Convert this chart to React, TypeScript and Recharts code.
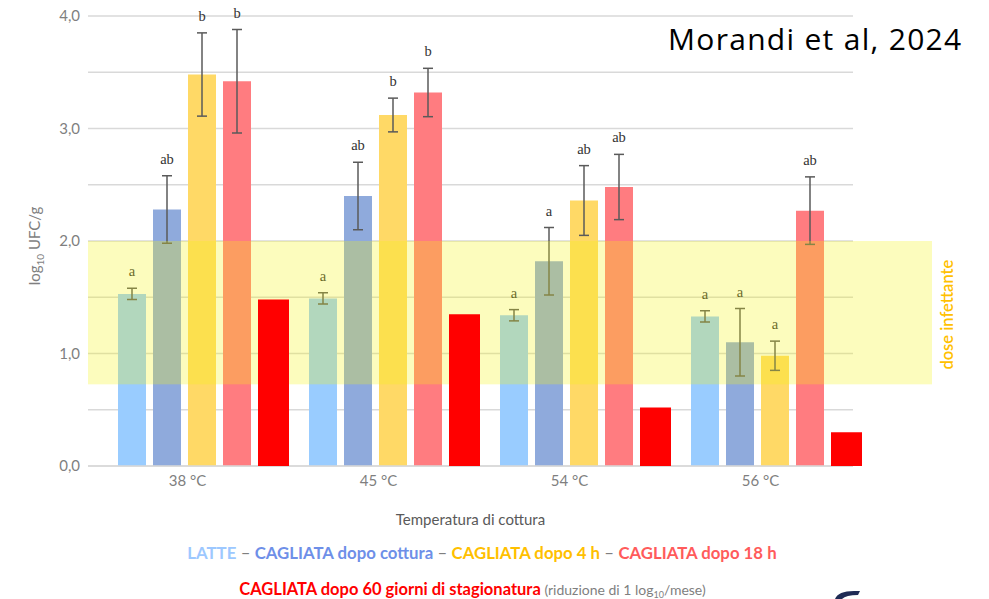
import React from "react";
import {
  BarChart,
  Bar,
  XAxis,
  YAxis,
  CartesianGrid,
  ErrorBar,
  LabelList,
  ReferenceArea,
} from "recharts";

// categorie (temperatura di cottura)
const categories = ["38 °C", "45 °C", "54 °C", "56 °C"];

// log10 UFC/g, medie
const latte = [1.53, 1.49, 1.34, 1.33];
const latteErr = [0.05, 0.05, 0.05, 0.05];
const latteSig = ["a", "a", "a", "a"];

const cottura = [2.28, 2.4, 1.82, 1.1];
const cotturaErr = [0.3, 0.3, 0.3, 0.3];
const cotturaSig = ["ab", "ab", "a", "a"];

const dopo4h = [3.48, 3.12, 2.36, 0.98];
const dopo4hErr = [0.37, 0.15, 0.31, 0.13];
const dopo4hSig = ["b", "b", "ab", "a"];

const dopo18h = [3.42, 3.32, 2.48, 2.27];
const dopo18hErr = [0.46, 0.215, 0.29, 0.3];
const dopo18hSig = ["b", "b", "ab", "ab"];

const stagionatura = [1.48, 1.35, 0.52, 0.3];

// fascia "dose infettante"
const doseRange = [0.726, 2.0];

const yTicks = [0, 0.5, 1, 1.5, 2, 2.5, 3, 3.5, 4];

const data = categories.map((cat, i) => ({
  cat,
  latte: latte[i],
  latteErr: latteErr[i],
  latteSig: latteSig[i],
  cottura: cottura[i],
  cotturaErr: cotturaErr[i],
  cotturaSig: cotturaSig[i],
  dopo4h: dopo4h[i],
  dopo4hErr: dopo4hErr[i],
  dopo4hSig: dopo4hSig[i],
  dopo18h: dopo18h[i],
  dopo18hErr: dopo18hErr[i],
  dopo18hSig: dopo18hSig[i],
  stagionatura: stagionatura[i],
}));

const GRAY = "#7F7F7F";

// lettera di significatività sopra la barra d'errore
function sigLabel(values: number[], errs: number[]) {
  return (props: any) => {
    const { x, y, width, height, value, index } = props;
    const pxPerUnit = height / values[index];
    const top = y - errs[index] * pxPerUnit;
    return (
      <text
        x={x + width / 2}
        y={top - 12}
        textAnchor="middle"
        fontFamily="'Liberation Serif', serif"
        fontSize={14.5}
        fill="#333"
      >
        {value}
      </text>
    );
  };
}

const XTick = (props: any) => {
  const { x, y, payload } = props;
  return (
    <text x={x - 16} y={y} dy={12} textAnchor="middle" fill={GRAY} fontSize={15} fontFamily="Lato">
      {payload.value}
    </text>
  );
};

// la fascia parte dall'inizio del grafico (padding asse x = 20) e sborda a destra
const DoseBand = (props: any) => {
  const { x, y, width, height } = props;
  return (
    <g>
      <rect x={x - 20} y={y} width={width + 80} height={height} fill="#F4F313" fillOpacity={0.28} />
      <text
        x={0}
        y={0}
        transform={`translate(${x + width + 81}, ${y + height / 2 + 2}) rotate(-90)`}
        textAnchor="middle"
        fill="#FFC000"
        fontSize={16.5}
        fontWeight={600}
        fontFamily="Lato"
      >
        dose infettante
      </text>
    </g>
  );
};

const YLabel = () => (
  <text
    transform="translate(40, 246) rotate(-90)"
    textAnchor="middle"
    fill={GRAY}
    fontSize={15}
    fontFamily="Lato"
  >
    log
    <tspan fontSize={10} dy={4}>10</tspan>
    <tspan dy={-4}> UFC/g</tspan>
  </text>
);

export default function App() {
  return (
    <div
      style={{
        position: "absolute",
        left: 0,
        top: 0,
        width: 989,
        height: 599,
        background: "#fff",
        fontFamily: "Lato, sans-serif",
        overflow: "hidden",
      }}
    >
      <BarChart
        width={989}
        height={599}
        data={data}
        margin={{ top: 16, right: 136, bottom: 103, left: 0 }}
        barGap={7}
      >
        <CartesianGrid vertical={false} stroke="#D9D9D9" strokeWidth={1.5} />
        <XAxis
          dataKey="cat"
          height={30}
          padding={{ left: 20, right: -19 }}
          axisLine={{ stroke: "#D9D9D9", strokeWidth: 1.5 }}
          tickLine={false}
          tick={<XTick />}
          label={{
            value: "Temperatura di cottura",
            position: "bottom",
            offset: 18,
            fill: "#595959",
            fontSize: 15,
            fontFamily: "Lato",
          }}
        />
        <YAxis
          width={88}
          domain={[0, 4]}
          ticks={yTicks}
          interval={0}
          axisLine={false}
          tickLine={false}
          tick={{ fill: GRAY, fontSize: 15, fontFamily: "Lato" }}
          tickFormatter={(v: number) => (Number.isInteger(v) ? v.toFixed(1).replace(".", ",") : "")}
          label={{ content: <YLabel /> }}
        />
        <Bar dataKey="latte" fill="#99CCFF" barSize={28} isAnimationActive={false}>
          <ErrorBar dataKey="latteErr" width={5} stroke="#5a5a5a" strokeWidth={1.5} />
          <LabelList dataKey="latteSig" content={sigLabel(latte, latteErr)} />
        </Bar>
        <Bar dataKey="cottura" fill="#8FAADC" barSize={28} isAnimationActive={false}>
          <ErrorBar dataKey="cotturaErr" width={5} stroke="#5a5a5a" strokeWidth={1.5} />
          <LabelList dataKey="cotturaSig" content={sigLabel(cottura, cotturaErr)} />
        </Bar>
        <Bar dataKey="dopo4h" fill="#FFD966" barSize={28} isAnimationActive={false}>
          <ErrorBar dataKey="dopo4hErr" width={5} stroke="#5a5a5a" strokeWidth={1.5} />
          <LabelList dataKey="dopo4hSig" content={sigLabel(dopo4h, dopo4hErr)} />
        </Bar>
        <Bar dataKey="dopo18h" fill="#FF7C80" barSize={28} isAnimationActive={false}>
          <ErrorBar dataKey="dopo18hErr" width={5} stroke="#5a5a5a" strokeWidth={1.5} />
          <LabelList dataKey="dopo18hSig" content={sigLabel(dopo18h, dopo18hErr)} />
        </Bar>
        <ReferenceArea
          y1={doseRange[0]}
          y2={doseRange[1]}
          shape={<DoseBand />}
          ifOverflow="visible"
          zIndex={2500}
        />
        <Bar dataKey="stagionatura" fill="#FF0000" barSize={31} isAnimationActive={false} zIndex={2600} />
      </BarChart>

      <div
        style={{
          position: "absolute",
          left: 668,
          top: 21,
          fontSize: 30,
          fontFamily: "'Open Sans', sans-serif",
          letterSpacing: 1.3,
          color: "#000",
          whiteSpace: "nowrap",
          lineHeight: "36px",
        }}
      >
        Morandi et al, 2024
      </div>

      <div
        style={{
          position: "absolute",
          left: 0,
          width: 964,
          top: 543,
          textAlign: "center",
          fontSize: 16.8,
          fontWeight: 700,
          whiteSpace: "nowrap",
          lineHeight: "20px",
        }}
      >
        <span style={{ color: "#9DC8FF" }}>LATTE</span>
        <span style={{ color: GRAY, fontWeight: 400 }}> – </span>
        <span style={{ color: "#6E8FE8" }}>CAGLIATA dopo cottura</span>
        <span style={{ color: GRAY, fontWeight: 400 }}> – </span>
        <span style={{ color: "#FFC000" }}>CAGLIATA dopo 4 h</span>
        <span style={{ color: GRAY, fontWeight: 400 }}> – </span>
        <span style={{ color: "#FF5B5B" }}>CAGLIATA dopo 18 h</span>
      </div>
      <div
        style={{
          position: "absolute",
          left: 0,
          width: 945,
          top: 580,
          textAlign: "center",
          whiteSpace: "nowrap",
          lineHeight: "18px",
        }}
      >
        <span style={{ color: "#FF0000", fontSize: 16.5, fontWeight: 700 }}>
          CAGLIATA dopo 60 giorni di stagionatura
        </span>
        <span style={{ color: GRAY, fontSize: 14 }}>
          {" "}(riduzione di 1 log
          <span style={{ fontSize: 9, position: "relative", top: 3 }}>10</span>
          /mese)
        </span>
      </div>

      <svg style={{ position: "absolute", left: 830, top: 585 }} width={40} height={14}>
        <path d="M5 14 Q8 6 24 6 L30 6 L28 10 Q16 10 12 14 Z" fill="#1F2B55" />
      </svg>
    </div>
  );
}
